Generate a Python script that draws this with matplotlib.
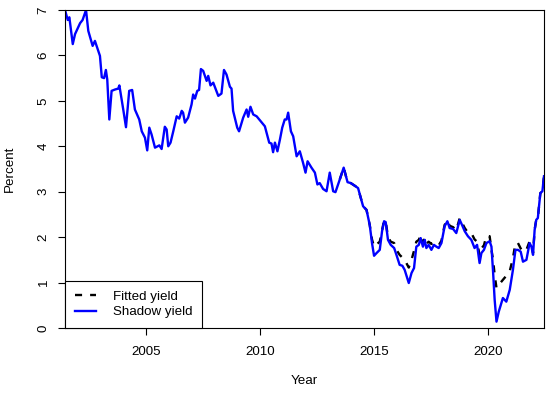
import matplotlib
matplotlib.use("Agg")
import matplotlib.pyplot as plt

plt.rcParams['font.family'] = ['Liberation Sans', 'DejaVu Sans']

# Shadow yield readings (year, percent)
shadow_year = [
    2001.46, 2001.58, 2001.65, 2001.80, 2001.90, 2002.12, 2002.23, 2002.38, 2002.48, 2002.67,
    2002.77, 2002.99, 2003.07, 2003.17, 2003.25, 2003.31, 2003.40, 2003.50, 2003.65, 2003.79,
    2003.84, 2004.01, 2004.13, 2004.27, 2004.40, 2004.52, 2004.71, 2004.82, 2004.96, 2005.06,
    2005.15, 2005.25, 2005.40, 2005.59, 2005.69, 2005.83, 2005.91, 2005.98, 2006.08, 2006.20,
    2006.35, 2006.46, 2006.57, 2006.63, 2006.71, 2006.85, 2007.00, 2007.07, 2007.15, 2007.25,
    2007.33, 2007.41, 2007.51, 2007.66, 2007.73, 2007.83, 2007.95, 2008.17, 2008.31, 2008.42,
    2008.53, 2008.68, 2008.75, 2008.82, 2009.00, 2009.08, 2009.26, 2009.41, 2009.48, 2009.58,
    2009.70, 2009.85, 2010.06, 2010.21, 2010.40, 2010.50, 2010.57, 2010.65, 2010.76, 2010.87,
    2010.97, 2011.08, 2011.16, 2011.23, 2011.35, 2011.45, 2011.60, 2011.74, 2011.88, 2011.99,
    2012.08, 2012.25, 2012.40, 2012.51, 2012.61, 2012.76, 2012.91, 2013.05, 2013.20, 2013.30,
    2013.49, 2013.66, 2013.83, 2013.97, 2014.15, 2014.29, 2014.51, 2014.66, 2014.80, 2014.90,
    2014.99, 2015.10, 2015.24, 2015.34, 2015.43, 2015.50, 2015.60, 2015.72, 2015.87, 2015.97,
    2016.11, 2016.23, 2016.33, 2016.51, 2016.63, 2016.74, 2016.84, 2016.95, 2017.03, 2017.13,
    2017.21, 2017.28, 2017.38, 2017.50, 2017.61, 2017.72, 2017.82, 2017.94, 2018.08, 2018.20,
    2018.30, 2018.45, 2018.59, 2018.74, 2018.84, 2018.96, 2019.10, 2019.25, 2019.39, 2019.50,
    2019.61, 2019.69, 2019.80, 2019.91, 2020.05, 2020.13, 2020.20, 2020.27, 2020.35, 2020.45,
    2020.63, 2020.78, 2020.93, 2021.07, 2021.18, 2021.29, 2021.41, 2021.51, 2021.66, 2021.80,
    2021.88, 2021.95, 2022.02, 2022.09, 2022.16, 2022.27, 2022.36, 2022.43,
]
shadow_val = [
    7.00, 6.78, 6.84, 6.25, 6.47, 6.71, 6.78, 7.00, 6.54, 6.21,
    6.32, 5.99, 5.52, 5.50, 5.68, 5.47, 4.59, 5.22, 5.25, 5.27,
    5.34, 4.81, 4.42, 5.22, 5.24, 4.81, 4.59, 4.33, 4.19, 3.91,
    4.41, 4.26, 3.97, 4.02, 3.94, 4.43, 4.37, 4.00, 4.08, 4.33,
    4.66, 4.61, 4.78, 4.74, 4.52, 4.63, 4.92, 5.14, 5.05, 5.22,
    5.24, 5.70, 5.66, 5.44, 5.55, 5.34, 5.40, 5.11, 5.16, 5.68,
    5.58, 5.31, 5.27, 4.78, 4.41, 4.33, 4.63, 4.81, 4.65, 4.87,
    4.70, 4.66, 4.53, 4.44, 4.08, 4.06, 3.87, 4.08, 3.89, 4.15,
    4.41, 4.59, 4.59, 4.74, 4.33, 4.22, 3.78, 3.89, 3.64, 3.42,
    3.67, 3.53, 3.42, 3.16, 3.19, 3.06, 3.01, 3.42, 3.01, 2.99,
    3.27, 3.53, 3.21, 3.19, 3.13, 3.08, 2.68, 2.60, 2.27, 1.87,
    1.59, 1.65, 1.72, 2.13, 2.35, 2.33, 1.94, 1.83, 1.76, 1.61,
    1.39, 1.37, 1.28, 0.99, 1.21, 1.32, 1.79, 1.83, 1.98, 1.79,
    1.94, 1.76, 1.83, 1.72, 1.83, 1.79, 1.76, 1.87, 2.24, 2.35,
    2.20, 2.18, 2.09, 2.38, 2.27, 2.13, 2.02, 1.94, 1.76, 1.83,
    1.43, 1.65, 1.72, 1.87, 1.91, 1.79, 1.24, 0.62, 0.14, 0.36,
    0.66, 0.58, 0.84, 1.28, 1.72, 1.72, 1.68, 1.46, 1.50, 1.87,
    1.79, 1.61, 2.16, 2.38, 2.42, 2.97, 3.01, 3.34,
]

# Fitted yield readings (coincides with shadow yield in the high-rate years)
fitted_year = [
    2013.49, 2013.66, 2013.83, 2013.97, 2014.15, 2014.29, 2014.51, 2014.66, 2014.80, 2014.90,
    2014.99, 2015.10, 2015.24, 2015.34, 2015.43, 2015.50, 2015.60, 2015.72, 2015.87, 2015.97,
    2016.11, 2016.23, 2016.33, 2016.51, 2016.63, 2016.74, 2016.84, 2016.95, 2017.03, 2017.13,
    2017.21, 2017.28, 2017.38, 2017.50, 2017.61, 2017.72, 2017.82, 2017.94, 2018.08, 2018.20,
    2018.30, 2018.45, 2018.59, 2018.74, 2018.84, 2018.96, 2019.10, 2019.25, 2019.39, 2019.50,
    2019.61, 2019.69, 2019.80, 2019.91, 2020.05, 2020.13, 2020.20, 2020.27, 2020.35, 2020.45,
    2020.63, 2020.78, 2020.93, 2021.07, 2021.18, 2021.29, 2021.41, 2021.51, 2021.66, 2021.80,
    2021.88, 2021.95, 2022.02, 2022.09, 2022.16, 2022.27, 2022.36, 2022.43,
]
fitted_val = [
    3.27, 3.53, 3.21, 3.19, 3.13, 3.08, 2.68, 2.60, 2.27, 1.95,
    1.79, 1.84, 1.90, 2.15, 2.37, 2.35, 2.00, 1.90, 1.87, 1.72,
    1.61, 1.55, 1.50, 1.33, 1.50, 1.70, 1.90, 1.94, 2.05, 1.88,
    1.98, 1.85, 1.90, 1.85, 1.88, 1.83, 1.82, 1.92, 2.27, 2.37,
    2.25, 2.22, 2.15, 2.42, 2.32, 2.20, 2.10, 2.09, 1.95, 1.90,
    1.60, 1.75, 1.82, 2.03, 2.02, 1.72, 1.50, 1.17, 0.88, 0.95,
    1.06, 1.15, 1.25, 1.54, 1.87, 1.87, 1.75, 1.68, 1.72, 1.91,
    1.85, 1.65, 2.16, 2.38, 2.42, 2.97, 3.01, 3.34,
]

x_ticks = [2005, 2010, 2015, 2020]
y_ticks = [0, 1, 2, 3, 4, 5, 6, 7]

fig = plt.figure(figsize=(5.5, 3.95), dpi=100)
ax = fig.add_axes([65 / 550, 1 - 328 / 395, (544 - 65) / 550, (328 - 10) / 395])

ax.plot(fitted_year, fitted_val, color='black', lw=1.7, ls=(0, (3, 3.4)), label='Fitted yield')
ax.plot(shadow_year, shadow_val, color='#0000FF', lw=1.7, label='Shadow yield')

ax.set_xlim(shadow_year[0], shadow_year[-1])
ax.set_ylim(0, 7)
ax.set_xticks(x_ticks)
ax.set_yticks(y_ticks)
ax.set_yticklabels([str(v) for v in y_ticks], rotation=90, va='center')
ax.tick_params(axis='both', direction='out', length=5, width=0.8, labelsize=9.6, pad=6)
ax.tick_params(axis='x', pad=8)
for s in ax.spines.values():
    s.set_linewidth(0.8)
    s.set_color('black')

ax.set_xlabel('Year', fontsize=9.6, labelpad=12)
ax.set_ylabel('Percent', fontsize=9.6, labelpad=16)

leg = ax.legend(loc='lower left', bbox_to_anchor=(0, 0), borderaxespad=0, fancybox=False,
                edgecolor='black', framealpha=1, fontsize=9.6, handlelength=1.6,
                handletextpad=1.3, borderpad=0.72, labelspacing=0.25)
leg.get_frame().set_linewidth(0.8)

fig.savefig('out.png', dpi=100)
